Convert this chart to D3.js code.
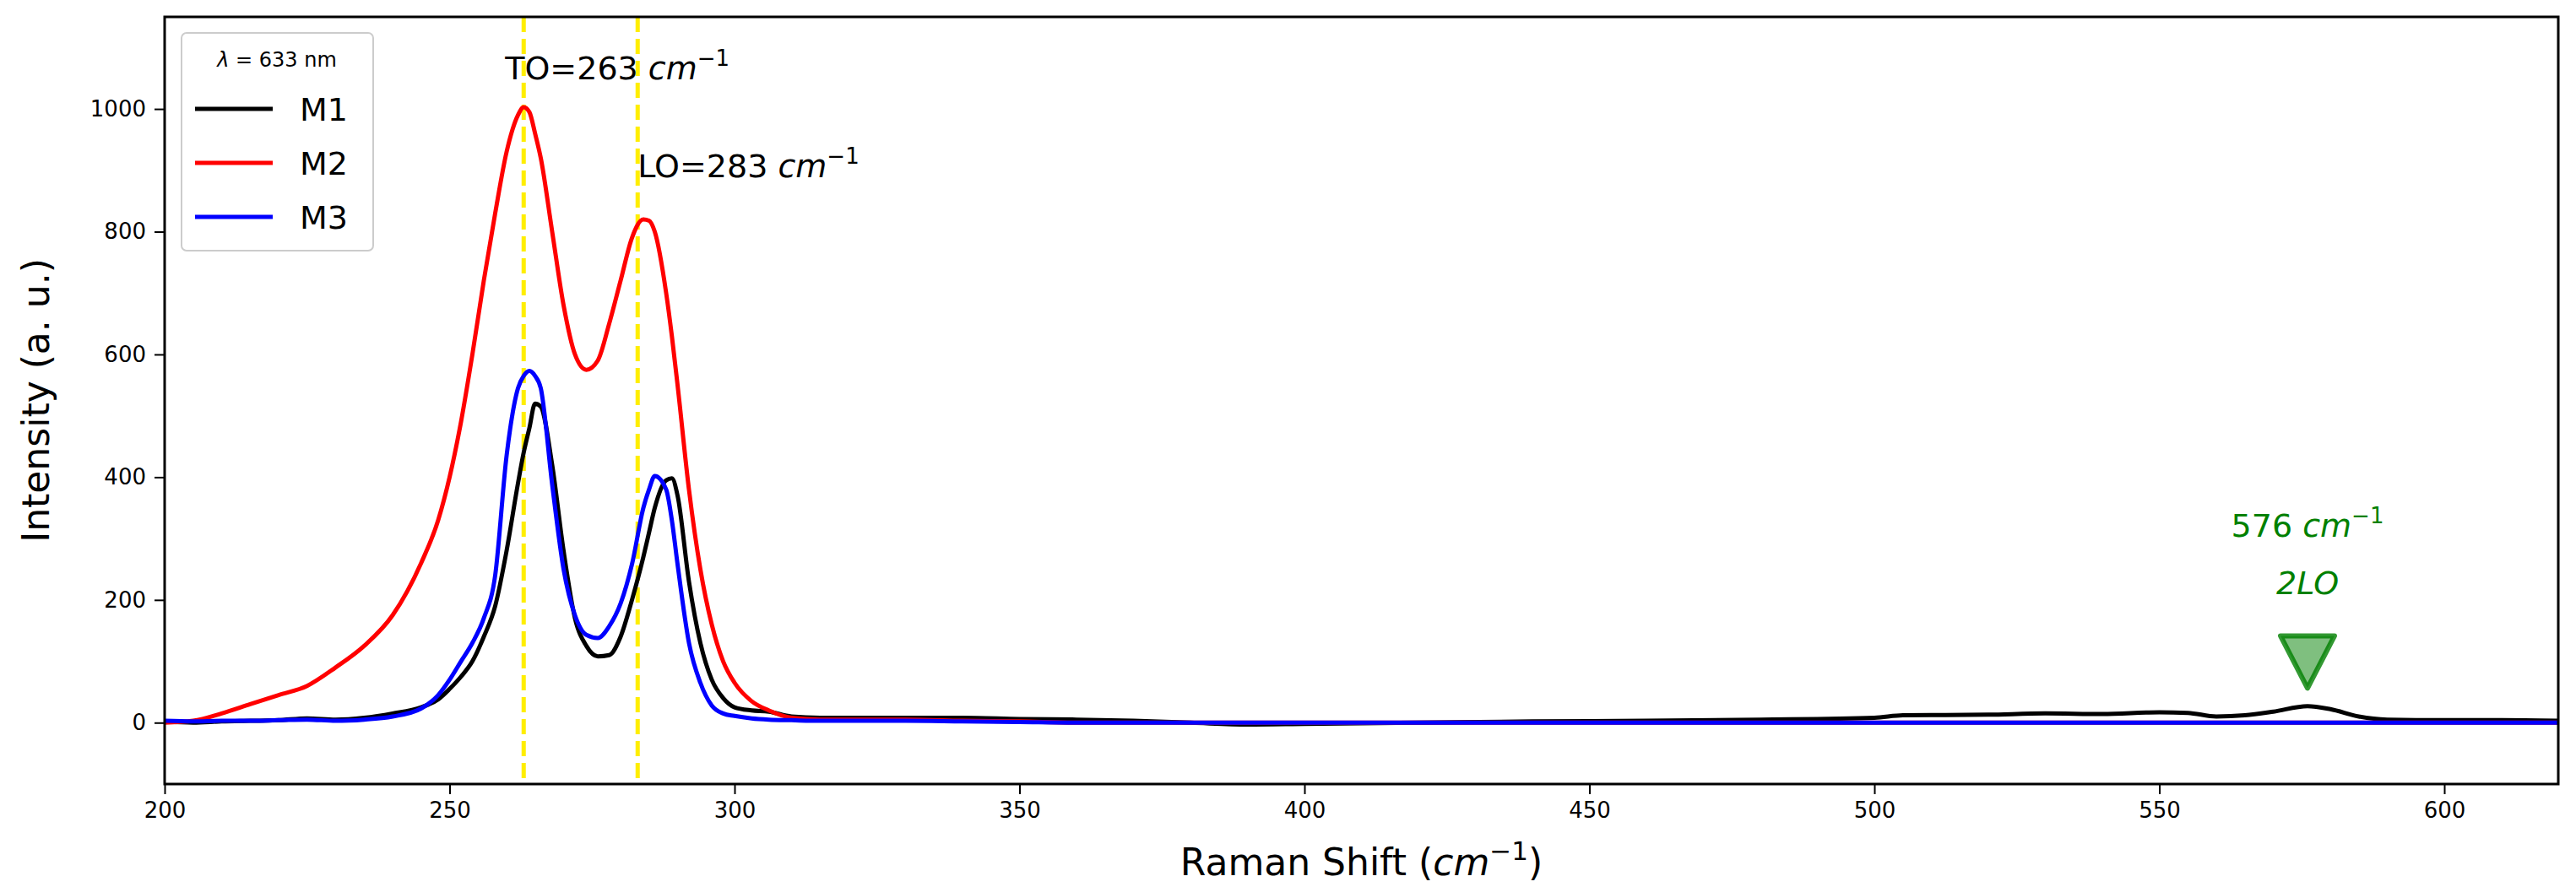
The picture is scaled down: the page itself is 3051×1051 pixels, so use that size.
<!DOCTYPE html>
<html><head><meta charset="utf-8">
<script src="https://cdn.jsdelivr.net/npm/d3@7"></script>
<style>body{margin:0;background:#fff}text{font-family:"DejaVu Sans",sans-serif}</style>
</head><body><div id="chart"></div>
<script>
// Raman shift grid (cm^-1) and intensities
const shift = [200,205,210,215,220,225,230,235,240,245,248,250,252,254,256,258,260,262,263,264,265,266,268,270,272,274,276,278,280,282,284,285,286,288,289,290,292,294,296,298,300,303,306,310,315,320,330,340,350,360,370,380,390,400,420,440,460,480,500,505,520,530,540,550,555,560,565,570,576,580,585,590,600,610,620];
const m1 = [2,0,2,3,4,7,5,8,15,25,38,55,75,100,140,190,280,390,440,480,520,515,420,280,170,125,108,110,140,200,270,310,350,395,398,370,230,130,70,40,25,20,18,10,8,8,8,8,6,5,3,0,-3,-2,0,2,3,5,8,12,13,15,14,17,16,10,12,18,27,22,10,5,4,4,3];
const m2 = [0,3,15,30,45,60,90,125,175,260,330,400,490,600,720,830,930,990,1003,995,960,920,800,680,600,575,590,650,720,790,820,818,800,700,630,550,380,250,160,100,65,35,20,8,5,5,5,3,2,0,0,0,0,0,0,0,0,0,0,0,0,0,0,0,0,0,0,0,0,0,0,0,0,0,0];
const m3 = [3,2,3,3,4,5,3,5,10,23,45,70,100,130,170,240,435,545,565,573,565,545,388,250,175,143,138,157,194,258,350,380,402,380,330,258,130,65,28,15,11,7,5,4,3,3,3,2,1,0,0,0,0,0,0,0,0,0,0,0,0,0,0,0,0,0,0,0,0,0,0,0,0,0,0];
const seriesNames = ["M1","M2","M3"];
const seriesColors = ["black","red","blue"];
const xTicks = [200,250,300,350,400,450,500,550,600];
const yTicks = [0,200,400,600,800,1000];
const modeLines = [263,283];

const W = 3051, H = 1051;
const margin = {top: 20, right: 21, bottom: 122, left: 195};
const width = W - margin.left - margin.right;
const height = H - margin.top - margin.bottom;

const svg = d3.select("#chart").append("svg").attr("width", W).attr("height", H);
const g = svg.append("g").attr("transform", `translate(${margin.left},${margin.top})`);

const x = d3.scaleLinear().domain([200, 620]).range([0, width]);
const y = d3.scaleLinear().domain([-100, 1150]).range([height, 0]);

g.append("defs").append("clipPath").attr("id", "clip")
  .append("rect").attr("width", width).attr("height", height);

// yellow dashed mode lines
g.selectAll(".mode").data(modeLines).enter().append("line")
  .attr("x1", d => x(d)).attr("x2", d => x(d))
  .attr("y1", 0).attr("y2", height)
  .attr("stroke", "#ffee00").attr("stroke-width", 5)
  .attr("stroke-dasharray", "18,8");

const line = vals => d3.line()
  .x((d, i) => x(shift[i])).y(d => y(d))
  .curve(d3.curveMonotoneX)(vals);

[m1, m2, m3].forEach((vals, i) => {
  g.append("path").attr("d", line(vals)).attr("fill", "none")
    .attr("clip-path", "url(#clip)")
    .attr("stroke", seriesColors[i]).attr("stroke-width", 5)
    .attr("stroke-linejoin", "round");
});

// axes
const xAxis = g.append("g").attr("transform", `translate(0,${height})`)
  .call(d3.axisBottom(x).tickValues(xTicks).tickSize(12).tickPadding(10));
const yAxis = g.append("g")
  .call(d3.axisLeft(y).tickValues(yTicks).tickFormat(d3.format("d")).tickSize(12).tickPadding(10));
[xAxis, yAxis].forEach(a => {
  a.selectAll("text").style("font-size", "26px").style("font-family", "DejaVu Sans");
  a.selectAll("line").attr("stroke-width", 2);
  a.select(".domain").remove();
});
g.append("rect").attr("width", width).attr("height", height)
  .attr("fill", "none").attr("stroke", "black").attr("stroke-width", 3);

// axis labels
const xl = svg.append("text").attr("x", margin.left + width / 2).attr("y", H - 14)
  .attr("text-anchor", "middle").style("font-size", "44px");
xl.append("tspan").text("Raman Shift (");
xl.append("tspan").attr("font-style", "italic").text("cm");
xl.append("tspan").attr("dy", -18).style("font-size", "31px").text("−1");
xl.append("tspan").attr("dy", 18).text(")");

svg.append("text").attr("transform", `translate(58,${margin.top + height / 2}) rotate(-90)`)
  .attr("text-anchor", "middle").style("font-size", "44px").text("Intensity (a. u.)");

// annotations
function cmLabel(sel, prefix, fill) {
  sel.append("tspan").text(prefix);
  sel.append("tspan").attr("font-style", "italic").text("cm");
  sel.append("tspan").attr("dy", -16).style("font-size", "26px").text("−1");
  sel.attr("fill", fill);
}
cmLabel(g.append("text").attr("x", x(263) - 22).attr("y", 94 - margin.top)
  .style("font-size", "38px"), "TO=263 ", "black");
cmLabel(g.append("text").attr("x", x(283)).attr("y", 210 - margin.top)
  .style("font-size", "38px"), "LO=283 ", "black");
cmLabel(g.append("text").attr("x", x(576)).attr("y", 636 - margin.top)
  .attr("text-anchor", "middle").style("font-size", "38px"), "576 ", "green");
g.append("text").attr("x", x(576)).attr("y", 704 - margin.top)
  .attr("text-anchor", "middle").attr("fill", "green").attr("font-style", "italic")
  .style("font-size", "38px").text("2LO");
const tx = x(576), ty = y(103);
g.append("path").attr("d", `M${tx - 32},${ty - 28}L${tx + 32},${ty - 28}L${tx},${ty + 34}Z`)
  .attr("fill", "green").attr("fill-opacity", 0.5)
  .attr("stroke", "green").attr("stroke-opacity", 0.8).attr("stroke-width", 6)
  .attr("stroke-linejoin", "round");

// legend
const lg = g.append("g").attr("transform", `translate(20,19)`);
lg.append("rect").attr("width", 227).attr("height", 258).attr("rx", 6)
  .attr("fill", "white").attr("fill-opacity", 0.8).attr("stroke", "#ccc").attr("stroke-width", 2);
const lt = lg.append("text").attr("x", 113).attr("y", 40).attr("text-anchor", "middle").style("font-size", "24px");
lt.append("tspan").attr("font-style", "italic").text("λ");
lt.append("tspan").text(" = 633 nm");
seriesNames.forEach((n, i) => {
  const yy = 90 + i * 64;
  lg.append("line").attr("x1", 16).attr("x2", 108).attr("y1", yy).attr("y2", yy)
    .attr("stroke", seriesColors[i]).attr("stroke-width", 5);
  lg.append("text").attr("x", 140).attr("y", yy + 14).style("font-size", "38px").text(n);
});
</script></body></html>
